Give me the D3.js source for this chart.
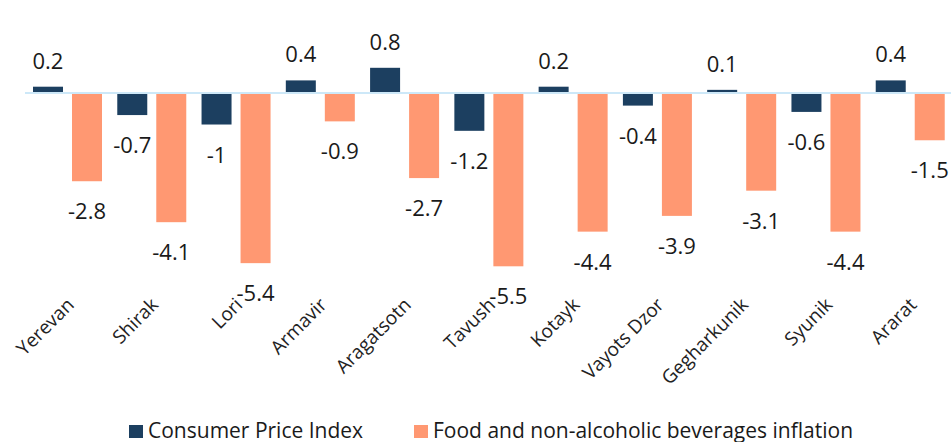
<!DOCTYPE html>
<html>
<head>
<meta charset="utf-8">
<script src="https://cdn.jsdelivr.net/npm/d3@7"></script>
<style>
  body { margin: 0; background: #fff; }
  svg { display: block; font-family: "Open Sans", sans-serif; }
</style>
</head>
<body>
<script>
var width = 951,
    height = 442;

var regions = ["Yerevan", "Shirak", "Lori", "Armavir", "Aragatsotn", "Tavush",
               "Kotayk", "Vayots Dzor", "Gegharkunik", "Syunik", "Ararat"];
var seriesNames = ["Consumer Price Index", "Food and non-alcoholic beverages inflation"];
var cpi  = [0.2, -0.7, -1, 0.4, 0.8, -1.2, 0.2, -0.4, 0.1, -0.6, 0.4];
var food = [-2.8, -4.1, -5.4, -0.9, -2.7, -5.5, -4.4, -3.9, -3.1, -4.4, -1.5];
var colors = ["#1c3f60", "#ff9872"];

var rows = regions.map(function(r, i) {
  return { region: r, values: [cpi[i], food[i]] };
});

var svg = d3.select("body").append("svg")
    .attr("width", width)
    .attr("height", height);

var x0 = d3.scaleBand()
    .domain(regions)
    .range([25, 952]);

var x1 = d3.scaleBand()
    .domain([0, 1])
    .range([8, 77])
    .paddingInner(0.231);

var y = d3.scaleLinear()
    .domain([-5.5, 0.8])
    .range([266.3, 67.8]);

var g = svg.selectAll(".group")
    .data(rows)
  .enter().append("g")
    .attr("class", "group")
    .attr("transform", function(d) { return "translate(" + x0(d.region) + ",0)"; });

g.selectAll("rect")
    .data(function(d) { return d.values; })
  .enter().append("rect")
    .attr("x", function(d, i) { return x1(i); })
    .attr("width", x1.bandwidth())
    .attr("y", function(d) { return y(Math.max(0, d)); })
    .attr("height", function(d) { return Math.abs(y(d) - y(0)); })
    .attr("fill", function(d, i) { return colors[i]; });

// zero line
svg.append("line")
    .attr("x1", 25)
    .attr("x2", width)
    .attr("y1", y(0))
    .attr("y2", y(0))
    .attr("stroke", "#cde8f8")
    .attr("stroke-width", 2);

// value labels
g.selectAll(".val")
    .data(function(d) { return d.values; })
  .enter().append("text")
    .attr("class", "val")
    .attr("x", function(d, i) { return x1(i) + x1.bandwidth() / 2; })
    .attr("y", function(d) { return d >= 0 ? y(d) - 18 : y(d) + 38; })
    .attr("text-anchor", "middle")
    .style("font-size", "22px")
    .style("fill", "#1a1a1a")
    .text(function(d) { return d; });

// category labels
svg.selectAll(".cat")
    .data(regions)
  .enter().append("text")
    .attr("class", "cat")
    .attr("transform", function(d) {
      return "translate(" + (x0(d) + x0.bandwidth() / 2 + 8) + ",306) rotate(-45)";
    })
    .attr("text-anchor", "end")
    .style("font-size", "19px")
    .style("fill", "#222")
    .text(function(d) { return d; });

// legend
var legendX = [129, 414];
var legend = svg.selectAll(".legend")
    .data(seriesNames)
  .enter().append("g")
    .attr("class", "legend")
    .attr("transform", function(d, i) { return "translate(" + legendX[i] + ",0)"; });

legend.append("rect")
    .attr("x", 0)
    .attr("y", 425)
    .attr("width", 14)
    .attr("height", 13)
    .attr("fill", function(d, i) { return colors[i]; });

legend.append("text")
    .attr("x", 19)
    .attr("y", 438)
    .style("font-size", "21px")
    .style("fill", "#1a1a1a")
    .text(function(d) { return d; });
</script>
</body>
</html>
